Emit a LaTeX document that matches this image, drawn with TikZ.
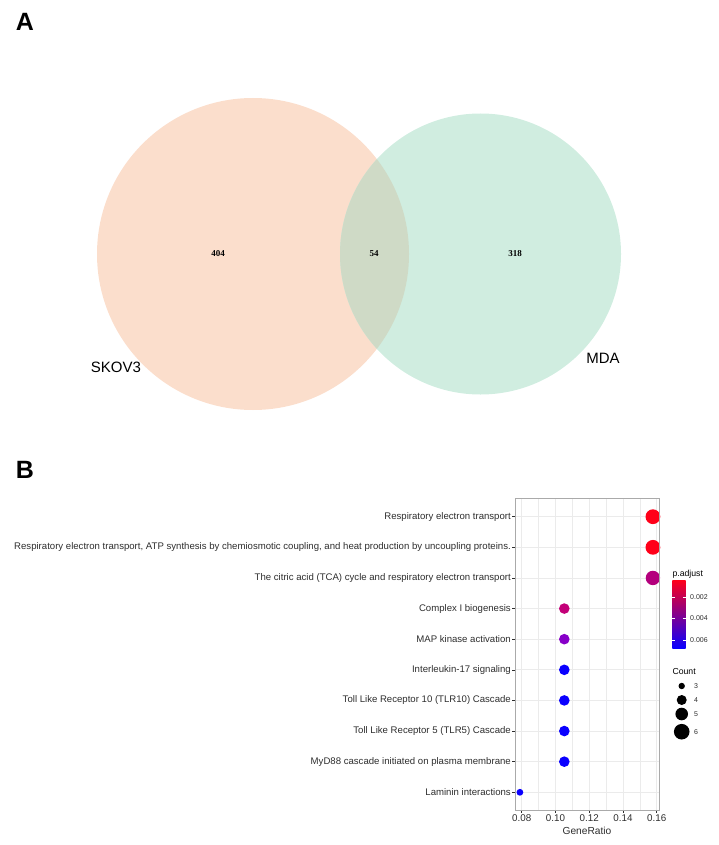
\documentclass[tikz,border=0pt]{standalone}
\usepackage{fontspec}
\setmainfont{Liberation Sans}
\newfontfamily\numfont{Liberation Serif}
\usepackage{xcolor}
\usepackage{tikz}
\usetikzlibrary{positioning}

\definecolor{skov}{RGB}{251,222,204}
\definecolor{mdac}{RGB}{208,237,224}
\definecolor{both}{RGB}{207,218,198}
\definecolor{axtext}{RGB}{45,45,45}
\definecolor{gridc}{RGB}{235,235,235}
\definecolor{framec}{RGB}{170,170,170}
\definecolor{padjhi}{RGB}{255,0,25}
\definecolor{padjmid}{RGB}{190,0,150}
\definecolor{padjlo}{RGB}{10,0,255}
\definecolor{padjc}{RGB}{180,0,125}
\definecolor{padjd}{RGB}{195,0,120}
\definecolor{padje}{RGB}{135,0,200}

\begin{document}
\begin{tikzpicture}[x=1pt, y=-1pt]
		\tikzstyle{panel} = [font=\fontsize{25}{25}\selectfont\bfseries, inner sep=0]
		\tikzstyle{setname} = [font=\fontsize{15}{15}\selectfont, inner sep=0]
		\tikzstyle{count} = [font=\numfont\fontsize{9}{9}\selectfont\bfseries, inner sep=0]
		\tikzstyle{term} = [anchor=east, font=\fontsize{9.6}{11}\selectfont, text=axtext, inner sep=0]
		\tikzstyle{ticklab} = [font=\fontsize{9.8}{11}\selectfont, text=axtext, inner sep=0]
		\tikzstyle{leglab} = [font=\fontsize{7}{8}\selectfont, text=axtext, anchor=west, inner sep=0]
		\tikzstyle{legtitle} = [font=\fontsize{8.7}{10}\selectfont, anchor=base west, inner sep=0]
		\tikzstyle{gridmajor} = [draw=gridc, line width=0.7pt]
		\tikzstyle{gridminor} = [draw=gridc, line width=0.35pt]
		\tikzstyle{axtick} = [draw=axtext, line width=0.5pt]
		\tikzstyle{dot} = [circle, inner sep=0]
		
		\useasboundingbox (0,0) rectangle (718,845);
		
		\node[panel] at (25,22) (A) {A};
		\fill[skov] (253,254) circle (156pt);
		\fill[mdac] (480.5,254) circle (140.5pt);
		\begin{scope}
			\clip (253,254) circle (156pt);
			\fill[both] (480.5,254) circle (140.5pt);
		\end{scope}
		\node[count] at (218,254) (n404) {404};
		\node[count] at (374,254) (n54) {54};
		\node[count] at (515,254) (n318) {318};
		\node[setname] at (116,367) (skov3) {SKOV3};
		\node[setname] at (603,358) (mda) {MDA};
		
		\node[panel] at (25,470) (B) {B};
		\foreach \x in {538.6, 572.3, 606.1, 639.8}
			\draw[gridminor] (\x,498) -- (\x,810);
		\foreach \x/\lab in {521.7/0.08, 555.5/0.10, 589.2/0.12, 623.0/0.14, 656.7/0.16} {
			\draw[gridmajor] (\x,498) -- (\x,810);
			\draw[axtick] (\x,810) -- (\x,813);
			\node[ticklab] at (\x,818.5) (x\lab) {\lab};
		}
		\foreach \i/\gx/\r/\col/\txt in {
			1/652.9/7.4/padjhi/{Respiratory electron transport},
			2/652.9/7.4/padjhi/{Respiratory electron transport, ATP synthesis by chemiosmotic coupling, and heat production by uncoupling proteins.},
			3/652.9/7.2/padjc/{The citric acid (TCA) cycle and respiratory electron transport},
			4/564.3/5.3/padjd/{Complex I biogenesis},
			5/564.3/5.3/padje/{MAP kinase activation},
			6/564.3/5.3/padjlo/{Interleukin-17 signaling},
			7/564.3/5.3/padjlo/{Toll Like Receptor 10 (TLR10) Cascade},
			8/564.3/5.3/padjlo/{Toll Like Receptor 5 (TLR5) Cascade},
			9/564.3/5.3/padjlo/{MyD88 cascade initiated on plasma membrane},
			10/519.9/3.4/padjlo/{Laminin interactions}} {
			\pgfmathsetmacro{\ry}{516.7+(\i-1)*30.62}
			\draw[gridmajor] (515,\ry) -- (659,\ry);
			\draw[axtick] (512,\ry) -- (515,\ry);
			\node[term] at (511,\ry) (term\i) {\txt};
			\node[dot, fill=\col, minimum size=2*\r pt] at (\gx,\ry) (dot\i) {};
		}
		\draw[framec, line width=0.7pt] (515,498) rectangle (659,810);
		\node[ticklab, font=\fontsize{10.2}{12}\selectfont] at (587,831) (xtitle) {GeneRatio};
		
		\node[legtitle] at (672.3,576) (padj) {p.adjust};
		\shade[top color=padjhi, middle color=padjmid, bottom color=padjlo] (672.3,580) rectangle (685.7,648);
		\foreach \y/\lab in {596.7/0.002, 618/0.004, 639.7/0.006} {
			\draw[white, line width=0.4pt] (672.3,\y) -- (675,\y) (683,\y) -- (685.7,\y);
			\node[leglab] at (690,\y) (p\lab) {\lab};
		}
		\node[legtitle] at (672.3,674) (cnt) {Count};
		\foreach \y/\r/\lab in {686/3.2/3, 700/5/4, 714/6.3/5, 731.7/7.8/6} {
			\node[dot, fill=black, minimum size=2*\r pt] at (681.7,\y) (c\lab) {};
			\node[leglab] at (694,\y) (cl\lab) {\lab};
		}
\end{tikzpicture}
\end{document}
